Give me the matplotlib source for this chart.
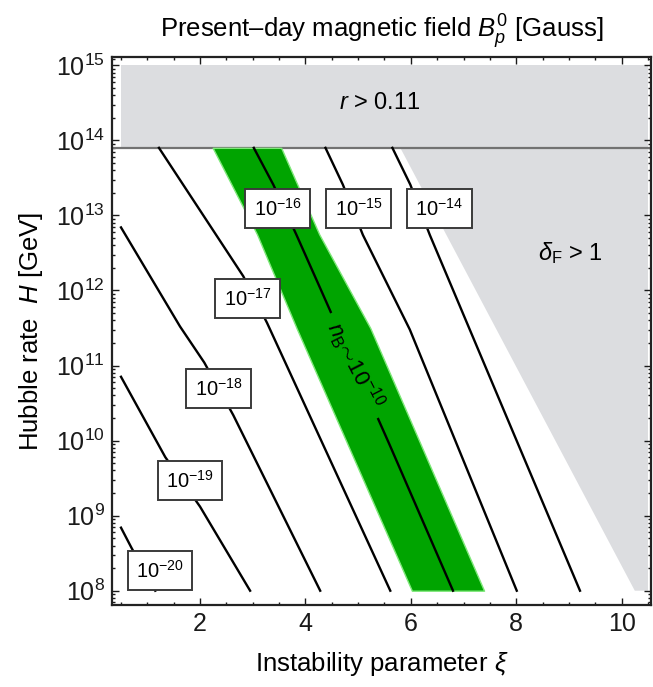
import numpy as np
import matplotlib
matplotlib.use('Agg')
import matplotlib.pyplot as plt
from matplotlib.ticker import FixedLocator, MultipleLocator, NullFormatter

plt.rcParams['font.family'] = ['Liberation Sans', 'DejaVu Sans']
plt.rcParams['mathtext.fontset'] = 'custom'
plt.rcParams['mathtext.rm'] = 'Liberation Sans'
plt.rcParams['mathtext.it'] = 'Liberation Sans:italic'
plt.rcParams['mathtext.bf'] = 'Liberation Sans:bold'

# contour lines of B_p^0: xi vs log10(H / GeV)
b14_xi = [5.65, 5.99, 6.36, 9.21]
b14_lh = [13.9, 13.41, 12.74, 8.0]
b15_xi = [4.38, 4.71, 5.09, 5.98, 8.01]
b15_lh = [13.9, 13.41, 12.74, 11.48, 8.0]
b16_xi = [3.02, 3.39, 3.83, 4.28, 5.60, 6.80]
b16_lh = [13.9, 13.41, 12.74, 12.03, 9.94, 8.0]
b17_xi = [1.22, 2.82, 3.27, 5.61]
b17_lh = [13.9, 12.19, 11.57, 8.0]
b18_xi = [0.5, 1.62, 2.08, 2.63, 4.28]
b18_lh = [12.84, 11.52, 11.04, 10.34, 8.0]
b19_xi = [0.5, 1.34, 2.00, 2.95]
b19_lh = [10.85, 9.78, 9.12, 8.0]
b20_xi = [0.5, 0.70, 1.15]
b20_lh = [8.84, 8.57, 8.0]

curves_xi = [b14_xi, b15_xi, b16_xi, b17_xi, b18_xi, b19_xi, b20_xi]
curves_lh = [b14_lh, b15_lh, b16_lh, b17_lh, b18_lh, b19_lh, b20_lh]

labels = ['$10^{-14}$', '$10^{-15}$', '$10^{-16}$', '$10^{-17}$',
          '$10^{-18}$', '$10^{-19}$', '$10^{-20}$']
label_xi = [6.54, 5.01, 3.47, 2.90, 2.35, 1.81, 1.24]
label_lh = [13.09, 13.09, 13.09, 11.89, 10.69, 9.47, 8.27]

# green band n_B ~ 1e-10
band_lh = [13.9, 12.75, 11.5, 8.0]
band_left = [2.24, 3.08, 3.83, 6.02]
band_right = [3.54, 4.26, 5.23, 7.39]

# excluded regions
xi_min, xi_max = 0.5, 10.5
lh_min, lh_max = 8.0, 15.0
r_bound = 13.9
dF_xi = [5.80, 10.25]
dF_lh = [13.9, 8.0]

# y ticks: decades 10^8 .. 10^15
decades = np.arange(8, 16)

gray = '#dcdde0'
green = '#00a400'

fig = plt.figure(figsize=(6.53, 6.87), dpi=100)
ax = fig.add_axes([0.1711, 0.1194, 0.8266, 0.7976])
ax.set_yscale('log')

# r > 0.11
ax.fill_between([xi_min, xi_max], 10**r_bound, 10**lh_max, color=gray, lw=0, zorder=1)
ax.axhline(10**r_bound, color='#727272', lw=1.6, zorder=2)

# delta_F > 1
ax.fill([dF_xi[0], dF_xi[1], xi_max, xi_max],
        [10**dF_lh[0], 10**dF_lh[1], 10**lh_min, 10**r_bound],
        color=gray, lw=0, zorder=1)

# green band
ax.fill_betweenx(10**np.array(band_lh), band_left, band_right,
                 facecolor=green, edgecolor='#7fe87a', lw=1.0, zorder=2)

for xs, ls in zip(curves_xi, curves_lh):
    ax.plot(xs, 10**np.array(ls), color='black', lw=1.7, zorder=3)

for lab, x, l in zip(labels, label_xi, label_lh):
    ax.text(x, 10**l, lab, fontsize=14.5, ha='center', va='center', zorder=5,
            bbox=dict(boxstyle='square,pad=0.42', fc='white', ec='#3a3a3a', lw=1.4))

ax.text(4.93, 10**11.0, r'$n_{\rm B}\!\sim\!10^{-10}$', fontsize=16, rotation=-63,
        ha='center', va='center', rotation_mode='anchor', zorder=5,
        bbox=dict(boxstyle='square,pad=0.45', fc=green, ec='none'))

ax.text(5.42, 10**14.5, r'$r$ > 0.11', fontsize=17, ha='center', va='center', zorder=5)
ax.text(9.02, 10**12.5, r'$\delta_{\rm F}$ > 1', fontsize=17, ha='center', va='center', zorder=5)

ax.set_xlim(0.324, 10.567)
ax.set_ylim(10**7.81, 10**15.11)

ax.xaxis.set_major_locator(MultipleLocator(2))
ax.xaxis.set_minor_locator(MultipleLocator(0.5))
ax.xaxis.set_minor_formatter(NullFormatter())
ax.yaxis.set_major_locator(FixedLocator(10.0**decades))
ax.set_yticklabels([f'$10^{{{d}}}$' for d in decades])
minor = [m * 10.0**d for d in decades[:-1] for m in range(2, 10)]
minor += [m * 10.0**7 for m in range(7, 10)] + [10.0**15 * 1.2]
ax.yaxis.set_minor_locator(FixedLocator(minor))
ax.yaxis.set_minor_formatter(NullFormatter())
ax.tick_params(which='both', direction='in', top=True, right=True, width=1.0,
               labelsize=18, colors='#1a1a1a', pad=5)
ax.tick_params(which='major', length=5)
ax.tick_params(which='minor', length=2.5)
for s in ax.spines.values():
    s.set_linewidth(1.6)
    s.set_color('#222222')

ax.set_title(r'Present–day magnetic field $B_p^0$ [Gauss]', fontsize=18.5, pad=14)
ax.set_xlabel(r'Instability parameter $\xi$', fontsize=18.5, labelpad=10)
ax.set_ylabel(r'Hubble rate  $H$ [GeV]', fontsize=18.5, labelpad=8)

fig.savefig('out.png', dpi=100)
